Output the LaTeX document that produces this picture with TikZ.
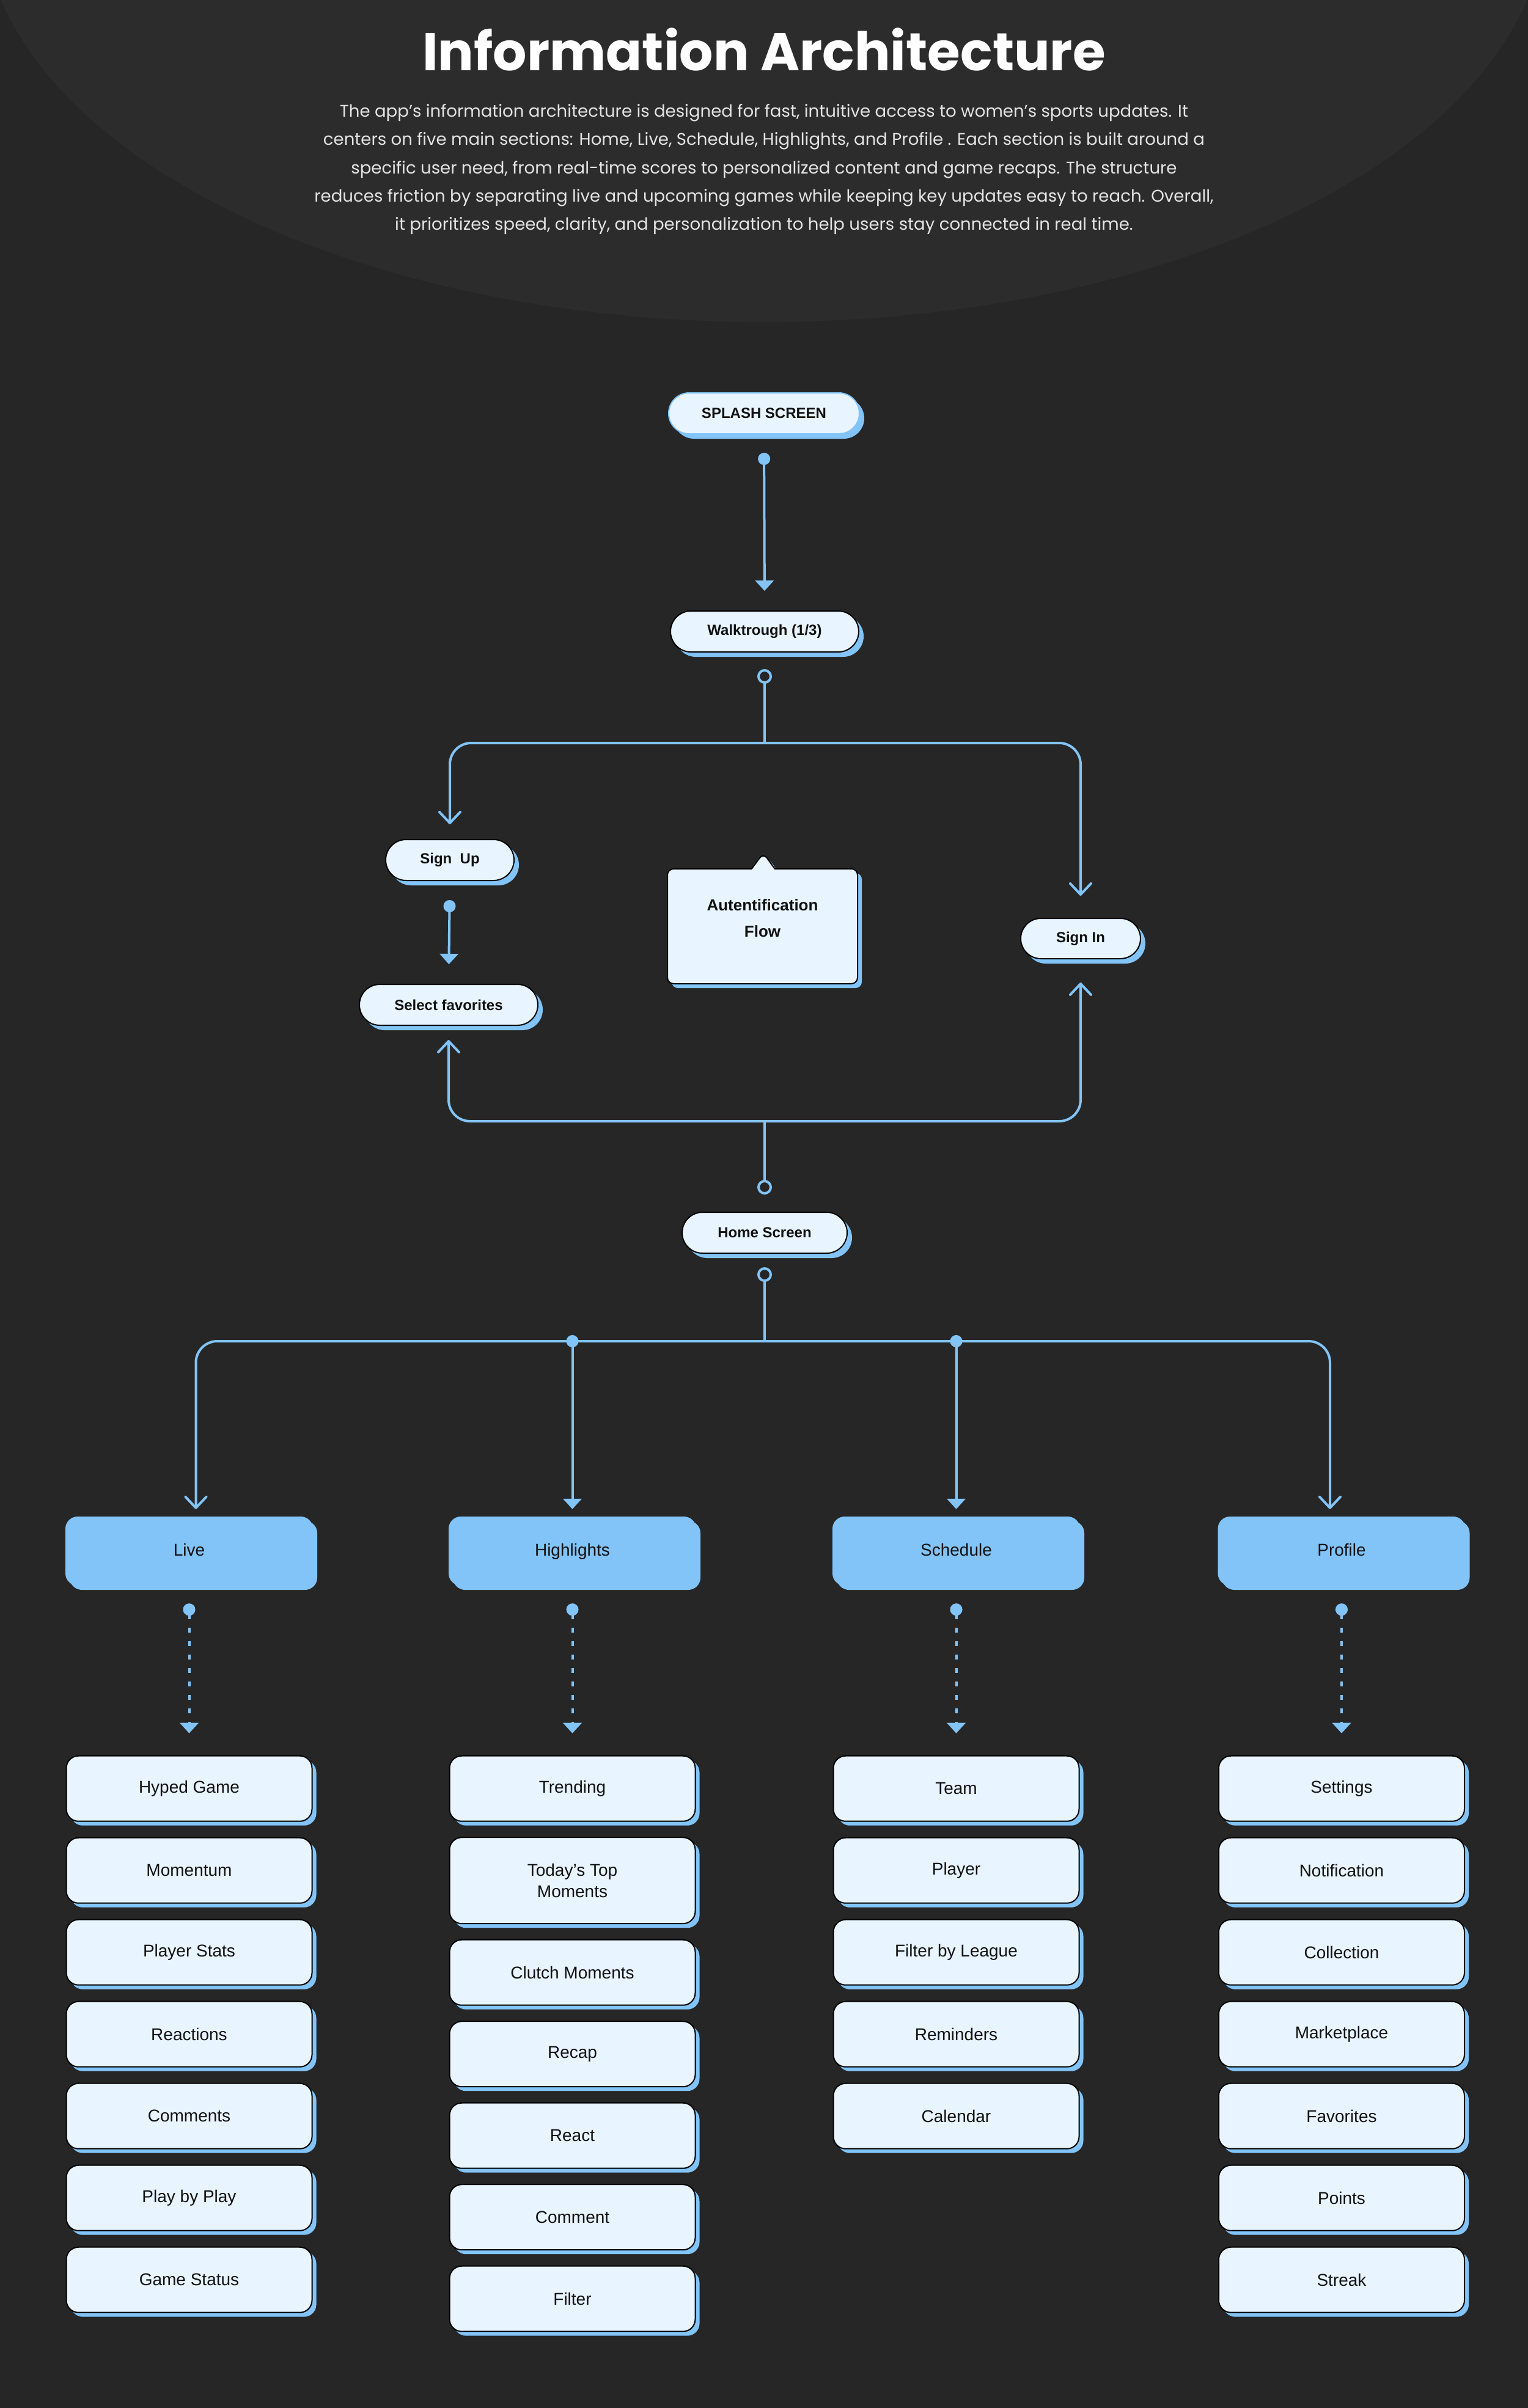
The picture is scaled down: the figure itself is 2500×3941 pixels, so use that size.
\documentclass[tikz,border=0pt]{standalone}
\usepackage{fontspec}
\setmainfont{Liberation Sans}
\newfontfamily\popfont{Poppins}
\usepackage{tikz}
\usetikzlibrary{arrows.meta,positioning,shapes.callouts,shadows}

\definecolor{bgdark}{HTML}{262626}
\definecolor{bglight}{HTML}{2C2C2C}
\definecolor{skyblue}{HTML}{82C4F8}
\definecolor{paleblue}{HTML}{E8F4FF}
\definecolor{inkblack}{HTML}{111111}
\definecolor{introtext}{HTML}{E4E4E4}

\tikzset{
  dotstart/.tip={Circle[length=20pt]},
  ringtip/.tip={Circle[length=24pt,fill=bgdark]},
  barbtip/.tip={Straight Barb[length=18pt,width=34pt,round]},
  tritip/.tip={Triangle[length=17pt,width=30pt]},
  link/.style={draw=skyblue, line width=4pt},
  bluecopy/.style={drop shadow={shadow xshift=#1, shadow yshift=-#1, fill=skyblue, opacity=1}},
  pill/.style={rectangle, rounded corners=33.5pt, draw=black, line width=2pt, fill=paleblue,
    text=inkblack, font=\fontsize{24}{29}\selectfont\bfseries, minimum height=67pt,
    inner sep=0pt, bluecopy=8pt},
  item/.style={rectangle, rounded corners=20pt, draw=black, line width=2pt, fill=paleblue,
    text=inkblack, font=\fontsize{28}{35}\selectfont, minimum width=402pt, minimum height=107pt,
    align=center, inner sep=0pt, bluecopy=7pt},
  header/.style={rectangle, rounded corners=20pt, fill=skyblue, text=inkblack,
    font=\fontsize{28}{34}\selectfont, minimum width=405pt, minimum height=113pt,
    text height=21pt, text depth=6pt, inner sep=0pt, bluecopy=7pt},
  introline/.style={anchor=base, text=introtext, font=\popfont\fontsize{27.6}{46}\selectfont},
}

\begin{document}
\begin{tikzpicture}[x=1pt, y=-1pt]
    % Page
    \useasboundingbox (0,0) rectangle (2500,3941);
    \fill[bgdark] (0,0) rectangle (2500,3941);
    \begin{scope}
        \clip (0,0) rectangle (2500,3941);
        \fill[bglight] (1250,-150) ellipse [x radius=1280, y radius=677];
    \end{scope}

    % Title and intro
    \node[anchor=base, text=white, font=\popfont\bfseries\fontsize{87}{96}\selectfont] (title) at (1250,115) {Information Architecture};
    \node[introline] (intro1) at (1250,191) {The app’s information architecture is designed for fast, intuitive access to women’s sports updates. It};
    \node[introline] (intro2) at (1250,237) {centers on five main sections: Home, Live, Schedule, Highlights, and Profile . Each section is built around a};
    \node[introline] (intro3) at (1250,284) {specific user need, from real-time scores to personalized content and game recaps. The structure};
    \node[introline] (intro4) at (1250,330) {reduces friction by separating live and upcoming games while keeping key updates easy to reach. Overall,};
    \node[introline] (intro5) at (1250,376) {it prioritizes speed, clarity, and personalization to help users stay connected in real time.};

    % Onboarding screens
    \node[pill, draw=skyblue, minimum width=312pt] (splash) at (1250,676.5) {SPLASH SCREEN};
    \node[pill, minimum width=308pt] (walk) at (1251,1033.5) {Walktrough (1/3)};
    \node[pill, minimum width=210pt] (signup) at (736,1407.5) {Sign~~Up};
    \node[pill, minimum width=292pt] (selfav) at (734,1644.5) {Select favorites};
    \node[pill, minimum width=196pt, minimum height=66pt, rounded corners=33pt] (signin) at (1768,1536) {Sign In};
    \node[pill, minimum width=270pt] (home) at (1251,2017.5) {Home Screen};
    \node[rectangle callout, callout absolute pointer={(1249,1396)}, callout pointer width=38pt,
          rounded corners=10pt, draw=black, line width=2pt, fill=paleblue, text=inkblack, align=center,
          font=\fontsize{26}{43}\selectfont\bfseries, minimum width=311pt, minimum height=188pt,
          text depth=26pt, bluecopy=7pt] (authflow) at (1247.5,1516) {Autentification\\Flow};

    % Sections
    \node[header] (live) at (309.5,2538.5) {Live};
    \node[header] (high) at (936.5,2538.5) {Highlights};
    \node[header] (sched) at (1564.5,2538.5) {Schedule};
    \node[header] (profile) at (2195,2538.5) {Profile};

    % Section pages
    \foreach \lbl [count=\i, remember=\i as \j (initially 0)] in {Hyped Game, Momentum, Player Stats, Reactions, Comments, Play by Play, Game Status}{
        \ifnum\i=1
            \node[item, below=277.5pt of live] (live-\i) {\lbl};
        \else
            \node[item, below=25pt of live-\j] (live-\i) {\lbl};
        \fi
    }
    \foreach \lbl/\boxh [count=\i, remember=\i as \j (initially 0)] in {Trending/107, {Today’s Top\\Moments}/141, Clutch Moments/107, Recap/107, React/107, Comment/107, Filter/107}{
        \ifnum\i=1
            \node[item, minimum height=\boxh pt, below=277.5pt of high] (high-\i) {\lbl};
        \else
            \node[item, minimum height=\boxh pt, below=24.5pt of high-\j] (high-\i) {\lbl};
        \fi
    }
    \foreach \lbl [count=\i, remember=\i as \j (initially 0)] in {Team, Player, Filter by League, Reminders, Calendar}{
        \ifnum\i=1
            \node[item, below=277.5pt of sched] (sched-\i) {\lbl};
        \else
            \node[item, below=25pt of sched-\j] (sched-\i) {\lbl};
        \fi
    }
    \foreach \lbl [count=\i, remember=\i as \j (initially 0)] in {Settings, Notification, Collection, Marketplace, Favorites, Points, Streak}{
        \ifnum\i=1
            \node[item, below=277.5pt of profile] (profile-\i) {\lbl};
        \else
            \node[item, below=25pt of profile-\j] (profile-\i) {\lbl};
        \fi
    }

    % Onboarding links
    \coordinate (split) at (1251,1216);
    \coordinate (merge) at (1251,1835);
    \draw[link, dotstart-tritip, shorten <=30pt, shorten >=32pt] (splash.south) -- (walk.north);
    \draw[link, ringtip-, shorten <=27pt] (walk.south) -- (split);
    \draw[link, -barbtip, rounded corners=35pt, shorten >=24pt] (split) -| (signup.north);
    \draw[link, -barbtip, rounded corners=35pt, shorten >=36pt] (split) -| (signin.north);
    \draw[link, dotstart-tritip, shorten <=31pt, shorten >=32pt] (signup.south) -- (selfav.north);
    \draw[link, ringtip-, shorten <=28pt] (home.north) -- (merge);
    \draw[link, -barbtip, rounded corners=35pt, shorten >=23pt] (merge) -| (selfav.south);
    \draw[link, -barbtip, rounded corners=35pt, shorten >=38pt] (merge) -| (signin.south);

    % Home to sections
    \coordinate (homebus) at (1251,2195);
    \draw[link, ringtip-, shorten <=22pt] (home.south) -- (homebus);
    \draw[link, -barbtip, rounded corners=35pt, shorten >=12pt] (homebus) -| ([xshift=11pt]live.north);
    \draw[link, -barbtip, rounded corners=35pt, shorten >=12pt] (homebus) -| ([xshift=-19pt]profile.north);
    \draw[link, dotstart-tritip, shorten <=-10pt, shorten >=12pt] (high.north |- homebus) -- (high.north);
    \draw[link, dotstart-tritip, shorten <=-10pt, shorten >=12pt] (sched.north |- homebus) -- (sched.north);

    % Sections to pages
    \foreach \hdr in {live,high,sched,profile}
        \draw[link, dash pattern=on 8pt off 14pt, dotstart-tritip, shorten <=29pt, shorten >=36pt] (\hdr.south) -- (\hdr-1.north);
\end{tikzpicture}
\end{document}
